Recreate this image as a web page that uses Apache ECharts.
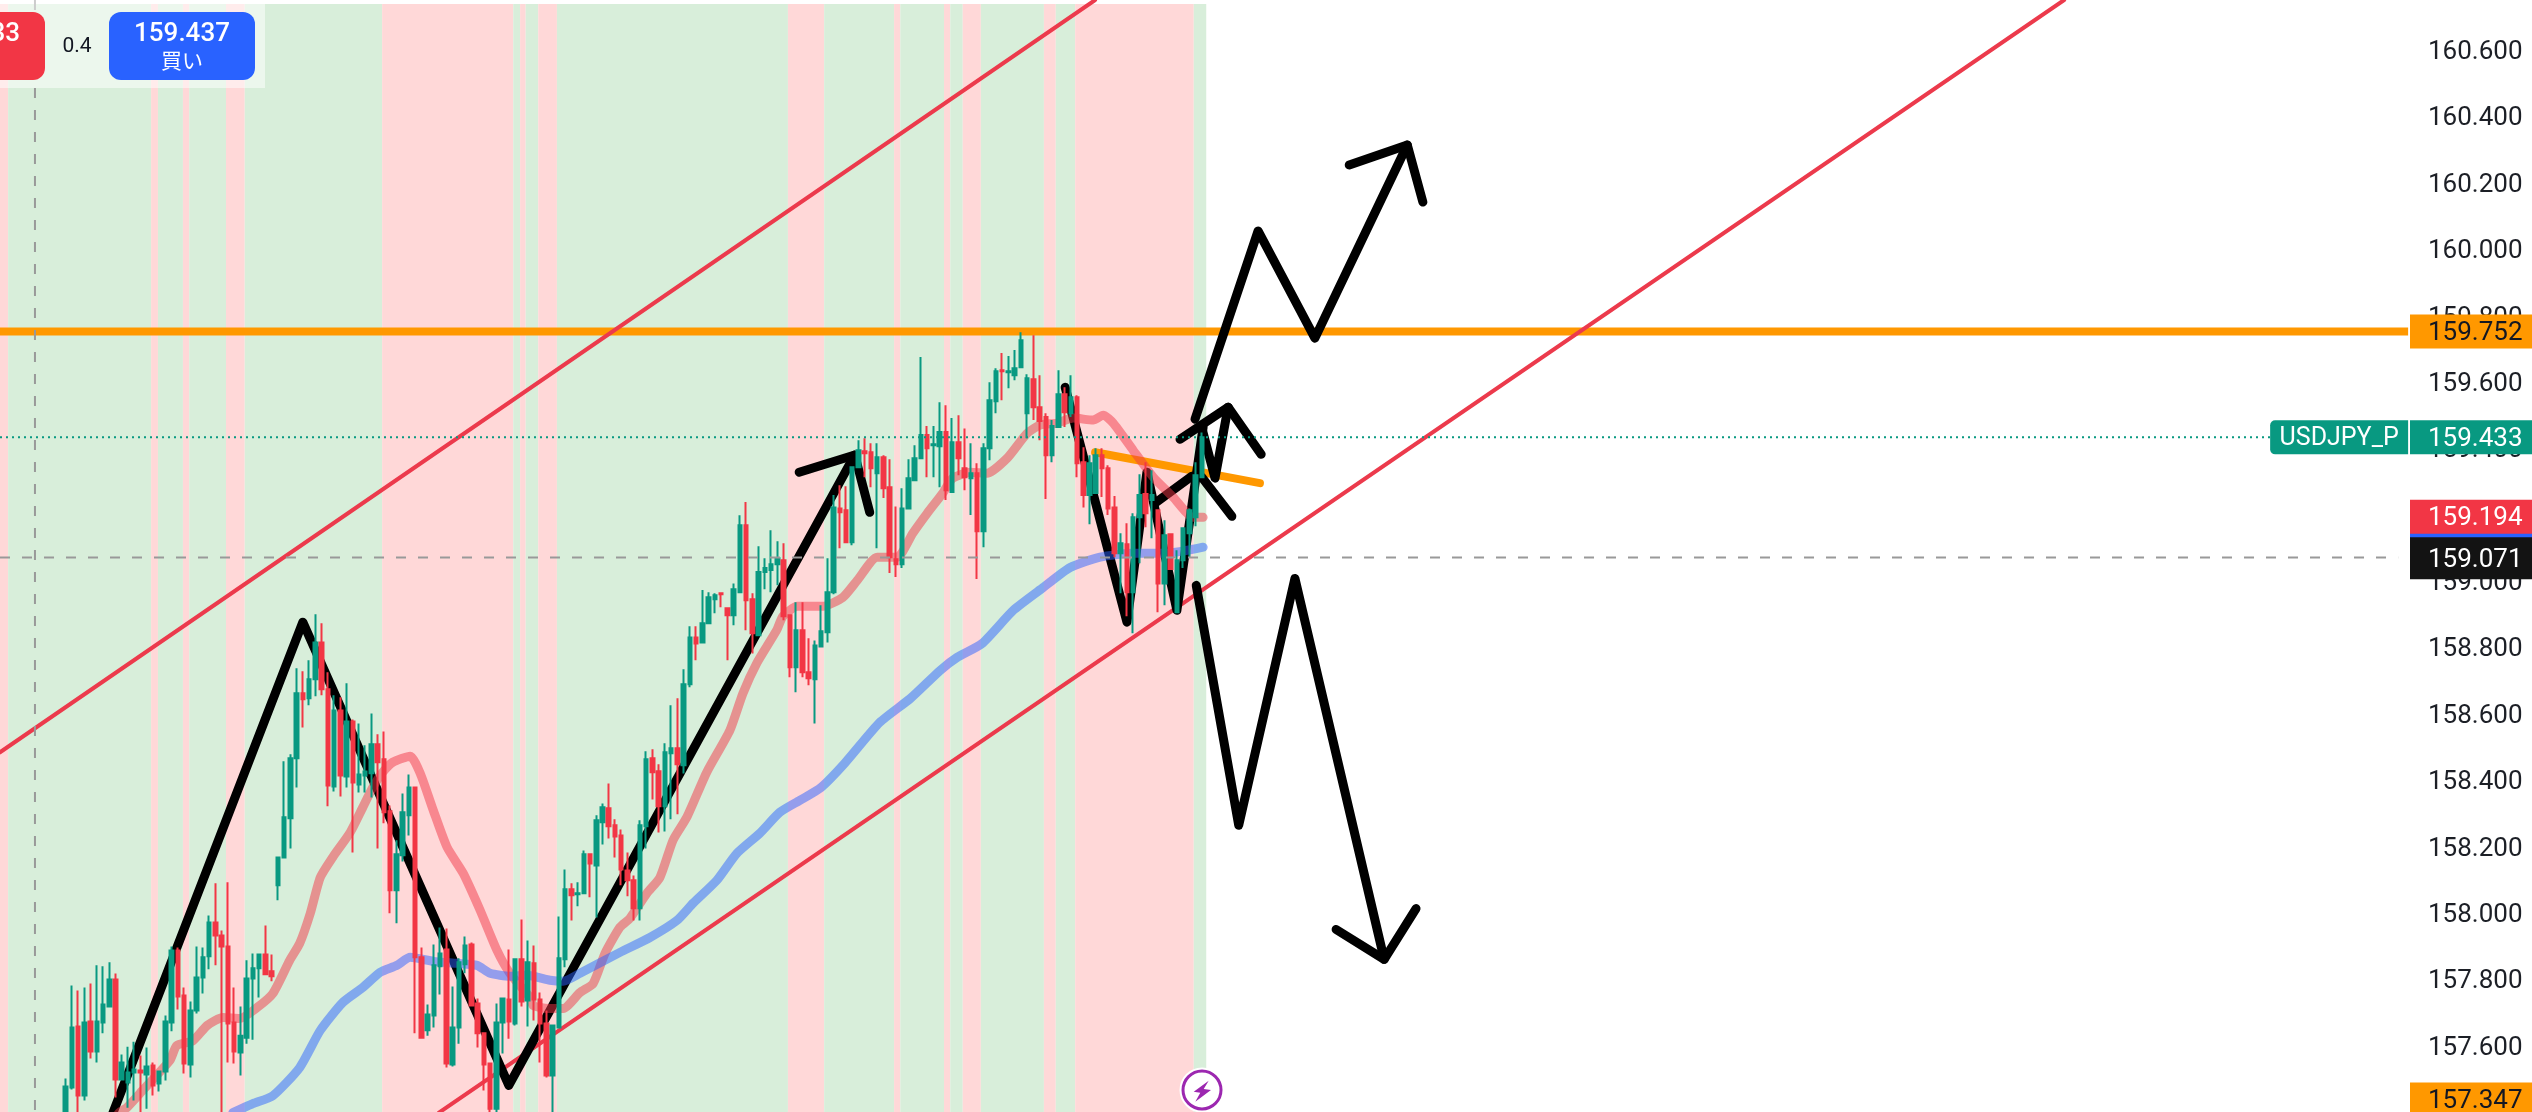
<!DOCTYPE html>
<html>
<head>
<meta charset="utf-8">
<title>USDJPY_P</title>
<script src="https://cdn.jsdelivr.net/npm/echarts@6/dist/echarts.min.js"></script>
<style>
  html, body { margin: 0; padding: 0; background: #fff; }
  #chart { width: 2532px; height: 1112px; }
</style>
</head>
<body>
<div id="chart"></div>
<script>
// bars: 10 empty slots, then the candles, then blank space up to the price scale
const barSlots = 386
const leadingSlots = 10

const opens = [
  157.359,157.474,157.658,157.450,157.673,157.582,157.670,157.718,157.799,157.498,
  157.489,157.519,157.525,157.513,157.540,157.486,157.522,157.670,157.887,157.751,
  157.543,157.706,157.805,157.869,157.971,157.932,157.899,157.670,157.579,157.624,
  157.802,157.833,157.875,157.824,158.083,158.167,158.285,158.466,158.662,158.647,
  158.704,158.815,158.674,158.381,158.610,158.411,158.577,158.387,158.414,158.421,
  158.508,158.463,158.306,158.068,158.174,158.294,158.378,157.866,157.646,157.691,
  157.839,157.890,157.543,157.655,157.845,157.905,157.727,157.637,157.546,157.410,
  157.670,157.739,157.667,157.860,157.736,157.848,157.739,157.667,157.510,157.655,
  157.860,158.071,158.056,158.059,158.177,158.143,158.273,158.315,158.264,158.233,
  158.128,158.098,158.014,158.261,158.466,158.427,158.321,158.481,158.496,158.445,
  158.689,158.830,158.815,158.873,158.945,158.963,158.918,158.897,158.966,159.168,
  158.945,158.837,159.027,159.033,159.051,159.063,158.897,158.740,158.852,158.725,
  158.704,158.803,158.846,158.966,159.219,159.213,159.117,159.343,159.391,159.388,
  159.325,159.373,159.283,159.066,159.051,159.219,159.304,159.370,159.440,159.409,
  159.406,159.449,159.268,159.418,159.340,159.310,159.325,159.150,159.400,159.542,
  159.635,159.629,159.620,159.644,159.506,159.608,159.524,159.494,159.379,159.464,
  159.563,159.506,159.554,159.358,159.259,159.265,159.379,159.340,159.222,159.084,
  159.111,158.966,159.192,159.262,159.244,159.213,158.993,159.141,158.906,159.063,
  159.144,159.192,159.313
]
const closes = [
  157.477,157.655,157.450,157.670,157.582,157.673,157.724,157.799,157.498,157.549,
  157.519,157.528,157.519,157.537,157.480,157.522,157.673,157.887,157.748,157.546,
  157.706,157.805,157.866,157.971,157.932,157.899,157.667,157.582,157.630,157.802,
  157.833,157.875,157.815,157.809,158.167,158.288,158.466,158.662,158.644,158.704,
  158.815,158.674,158.384,158.610,158.414,158.577,158.393,158.417,158.426,158.508,
  158.454,158.303,158.068,158.177,158.303,158.378,157.866,157.624,157.694,157.842,
  157.878,157.546,157.655,157.851,157.902,157.721,157.637,157.543,157.410,157.670,
  157.742,157.673,157.860,157.733,157.851,157.739,157.667,157.510,157.661,157.863,
  158.071,158.053,158.059,158.177,158.149,158.279,158.318,158.261,158.230,158.131,
  158.098,158.014,158.264,158.463,158.424,158.321,158.484,158.496,158.448,158.689,
  158.830,158.812,158.873,158.951,158.957,158.960,158.897,158.975,159.168,158.942,
  158.843,159.027,159.039,159.051,159.069,158.894,158.740,158.852,158.725,158.707,
  158.806,158.849,158.966,159.222,159.207,159.117,159.343,159.394,159.385,159.340,
  159.373,159.280,159.072,159.051,159.219,159.310,159.370,159.440,159.400,159.412,
  159.449,159.274,159.418,159.370,159.313,159.325,159.150,159.400,159.545,159.632,
  159.632,159.632,159.641,159.726,159.611,159.524,159.482,159.379,159.467,159.563,
  159.509,159.554,159.355,159.259,159.355,159.379,159.340,159.219,159.084,159.114,
  158.966,159.192,159.259,159.204,159.259,158.993,159.138,159.036,159.063,159.159,
  159.213,159.319,159.433
]
const lows = [
  157.344,157.468,157.359,157.435,157.561,157.549,157.637,157.715,157.444,157.495,
  157.413,157.435,157.389,157.410,157.450,157.462,157.495,157.643,157.709,157.516,
  157.504,157.697,157.757,157.830,157.842,157.398,157.549,157.546,157.510,157.606,
  157.618,157.745,157.812,157.794,158.038,158.167,158.194,158.378,158.559,158.626,
  158.653,158.656,158.321,158.366,158.351,158.378,158.182,158.363,158.363,158.348,
  158.194,158.270,157.999,157.969,158.155,158.233,157.637,157.624,157.630,157.655,
  157.754,157.534,157.537,157.606,157.818,157.718,157.594,157.465,157.398,157.398,
  157.576,157.621,157.661,157.718,157.658,157.676,157.549,157.504,157.398,157.655,
  157.836,157.977,158.020,158.059,158.047,157.986,158.206,158.224,158.167,158.083,
  158.050,157.977,157.977,158.194,158.342,158.242,158.245,158.282,158.297,158.420,
  158.680,158.761,158.815,158.873,158.903,158.921,158.761,158.867,158.963,158.852,
  158.782,158.837,158.975,158.966,158.987,158.882,158.710,158.665,158.710,158.686,
  158.571,158.803,158.815,158.960,159.099,159.117,159.108,159.343,159.313,159.283,
  159.099,159.250,159.024,159.012,159.039,159.219,159.304,159.370,159.313,159.313,
  159.283,159.244,159.265,159.319,159.274,159.199,159.006,159.102,159.364,159.506,
  159.545,159.581,159.605,159.644,159.430,159.485,159.424,159.247,159.358,159.461,
  159.464,159.494,159.313,159.222,159.171,159.265,159.253,159.199,159.072,158.963,
  158.894,158.843,159.054,159.162,159.129,158.906,158.927,159.036,158.903,159.039,
  159.072,159.165,159.313
]
const highs = [
  157.501,157.781,157.766,157.775,157.787,157.842,157.839,157.851,157.817,157.573,
  157.597,157.612,157.570,157.594,157.549,157.525,157.691,157.899,157.896,157.775,
  157.733,157.899,157.896,157.992,158.089,157.947,158.092,157.775,157.718,157.857,
  157.878,157.878,157.962,157.875,158.170,158.457,158.478,158.737,158.728,158.761,
  158.900,158.873,158.725,158.656,158.650,158.692,158.583,158.571,158.505,158.601,
  158.538,158.547,158.324,158.219,158.360,158.417,158.378,157.896,157.724,157.905,
  157.956,157.953,157.778,157.863,157.929,157.911,157.742,157.637,157.546,157.727,
  157.745,157.890,157.863,157.980,157.917,157.902,157.760,157.706,157.664,157.989,
  158.131,158.089,158.092,158.188,158.177,158.294,158.330,158.390,158.282,158.251,
  158.182,158.113,158.279,158.487,158.493,158.448,158.511,158.626,158.647,158.734,
  158.864,158.864,158.973,158.966,158.963,158.966,158.921,158.993,159.198,159.238,
  158.963,159.105,159.069,159.153,159.120,159.114,158.897,158.936,158.936,158.828,
  158.821,158.927,159.069,159.259,159.289,159.286,159.343,159.424,159.430,159.415,
  159.415,159.379,159.367,159.225,159.280,159.367,159.409,159.675,159.467,159.467,
  159.539,159.530,159.491,159.500,159.460,159.415,159.355,159.415,159.599,159.641,
  159.687,159.678,159.696,159.750,159.623,159.741,159.620,159.506,159.485,159.635,
  159.584,159.620,159.560,159.403,159.379,159.400,159.400,159.349,159.256,159.144,
  159.174,159.204,159.322,159.358,159.334,159.213,159.183,159.141,159.093,159.159,
  159.219,159.358,159.448
]

// moving averages
const fastMaBars = [
  17.6,19.1,20.3,22.4,27.2,28.3,30.9,33.2,35.7,38.4,41.2,43.7,46.4,48.0,49.7,51.3,53.3,56.1,58.1,59.7,
  61.3,62.9,65.7,67.3,69.4,71.6,74.2,76.9,79.6,81.7,84.9,85.4,87.8,90.2,92.9,95.0,96.9,99.3,100.9,103.6,
  105.7,107.8,110.0,113.2,116.9,119.0,121.2,124.4,125.4,127.7,131.8,135.0,137.3,140.5,143.7,146.2,148.5,
  151.0,152.6,155.4,158.1,161.3,164.5,166.6,169.3,171.9,175.1,176.7,178.3,181.5,184.7,187.9,191.1,192.7
]
const fastMa = [
  157.359,157.398,157.413,157.456,157.555,157.600,157.615,157.661,157.685,157.682,157.715,157.757,157.857,157.908,157.999,158.107,158.168,158.243,158.318,158.378,
  158.424,158.454,158.472,158.421,158.309,158.198,158.119,158.008,157.887,157.817,157.745,157.721,157.712,157.712,157.760,157.787,157.878,157.957,157.984,158.059,
  158.107,158.219,158.288,158.424,158.550,158.662,158.752,158.852,158.894,158.924,158.924,158.951,159.002,159.072,159.072,159.144,159.204,
  159.265,159.310,159.328,159.325,159.370,159.445,159.470,159.476,159.491,159.485,159.500,159.476,159.394,159.313,159.253,159.192,159.192
]
const slowMaBars = [
  37.3,40.5,43.7,48.0,51.3,54.9,58.1,60.9,63.6,65.7,69.4,73.2,76.4,78.5,81.7,84.4,88.1,90.2,92.9,99.3,104.1,
  108.4,111.0,114.8,118.0,121.7,124.9,128.1,131.5,135.3,140.9,145.8,150.6,153.3,157.3,162.3,167.1,171.4,176.2,181.5,186.9,192.7
]
const slowMa = [
  157.398,157.425,157.449,157.534,157.646,157.730,157.775,157.821,157.842,157.866,157.854,157.848,157.842,157.818,157.809,157.812,157.797,157.794,157.818,157.881,157.926,
  157.977,158.029,158.098,158.179,158.240,158.303,158.339,158.378,158.451,158.574,158.646,158.731,158.770,158.812,158.912,158.981,159.041,159.072,159.084,159.084,159.102
]

// background regimes, edges in bars, alternating red / green
const bandEdges = [
  0,1.3,24.2,25.3,29.3,30.3,36.2,39.2,61.2,82.2,83.3,84.2,86.2,89.2,126.2,132,143.2,144.2,
  151.2,152.2,154.2,157.1,167.2,169.1,172.2,191.2,193.2
]

// hand drawn lines, [bar, price]
const upperChannel = [[0, 158.484], [175.4, 160.751]]
const lowerChannel = [[70.3, 157.398], [330.6, 160.751]]
const resistance = [[0, 159.752], [385.7, 159.752]]
const shortOrange = [[175.4, 159.388], [201.8, 159.295]]
const lastPriceLine = [[0, 159.433], [363.6, 159.433]]
const crossH = [[0, 159.071], [384.1, 159.071]]
const crossV = [[5.6, 160.751], [5.6, 157.4]]

const swingPath = [[18.1, 157.398], [48.5, 158.876], [81.5, 157.480], [136.9, 159.380]]
const swingHead = [[128.0, 159.328], [136.9, 159.380], [139.3, 159.207]]
const zigzagPath = [[170.6, 159.584], [180.5, 158.876], [183.7, 159.328], [188.5, 158.912], [192.7, 159.464]]
const smallRise = [[185.0, 159.235], [190.9, 159.316]]
const smallHead = [[189.0, 159.427], [196.7, 159.524], [202.0, 159.382]]
const smallBack = [[196.7, 159.524], [194.6, 159.310], [192.5, 159.461]]
const smallFall = [[192.5, 159.313], [197.3, 159.195]]
const upPath = [[191.4, 159.488], [201.5, 160.055], [210.6, 159.732], [225.4, 160.314]]
const upHead = [[216.1, 160.254], [225.4, 160.314], [227.9, 160.142]]
const downPath = [[191.6, 158.987], [198.4, 158.264], [207.4, 159.008], [221.7, 157.860]]
const downHead = [[214.0, 157.950], [221.7, 157.860], [226.8, 158.013]]

// price scale tags, the last one is pinned to the bottom edge
const tagAnchors = [159.752, 159.433, 159.12, 159.194, 159.069, 157.438]
const tagLabels = ['159.752', '159.433', '', '159.194', '159.071', '157.347']
const tagFills = ['#FF9800', '#089981', '#2962FF', '#F23645', '#131313', '#FF9800']
const tagInks = ['#131722', '#ffffff', '#ffffff', '#ffffff', '#ffffff', '#131722']
const tagHeights = [34, 34, 34, 34, 42, 34]

const GREEN = '#089981'
const RED = '#F23645'
const TOP_PRICE = 160.739
const FONT = 'Roboto, sans-serif'

const categories = []
for (let i = 0; i < barSlots; i++) categories.push(String(i))

const candles = new Array(leadingSlots).fill('-')
for (let i = 0; i < opens.length; i++) {
  candles.push([opens[i], closes[i], lows[i], highs[i]])
}

const bands = []
for (let i = 0; i < bandEdges.length - 1; i++) {
  bands.push([bandEdges[i], bandEdges[i + 1], i % 2])
}

function zip(xs, ys) {
  return xs.map((x, i) => [x, ys[i]])
}

function renderBand(params, api) {
  const a = api.coord([api.value(0), TOP_PRICE])
  const b = api.coord([api.value(1), 157.4])
  return {
    type: 'rect',
    shape: { x: a[0], y: a[1], width: b[0] - a[0], height: b[1] - a[1] },
    style: { fill: api.value(2) === 0 ? '#FFD8D8' : '#D8EEDA' },
  }
}

function renderTag(params, api) {
  const i = params.dataIndex
  const p = api.coord([barSlots, tagAnchors[i]])
  const h = tagHeights[i]
  return {
    type: 'group',
    children: [
      {
        type: 'rect',
        shape: { x: p[0], y: p[1] - h / 2, width: 122, height: h },
        style: { fill: tagFills[i] },
      },
      {
        type: 'text',
        style: {
          text: tagLabels[i],
          x: p[0] + 18,
          y: p[1] + 2,
          fill: tagInks[i],
          font: '26px ' + FONT,
          textVerticalAlign: 'middle',
        },
      },
    ],
  }
}

function renderSymbolTag(params, api) {
  const p = api.coord([363.6, 159.433])
  const q = api.coord([385.7, 159.433])
  return {
    type: 'group',
    children: [
      {
        type: 'rect',
        shape: { x: p[0], y: p[1] - 17, width: q[0] - p[0], height: 34, r: [5, 0, 0, 5] },
        style: { fill: GREEN },
      },
      {
        type: 'text',
        style: {
          text: 'USDJPY_P',
          x: (p[0] + q[0]) / 2,
          y: p[1] + 1,
          fill: '#fff',
          font: '25px ' + FONT,
          textAlign: 'center',
          textVerticalAlign: 'middle',
        },
      },
    ],
  }
}

function lineSeries(data, color, width, z, extra) {
  return Object.assign({
    type: 'line',
    xAxisIndex: 1,
    yAxisIndex: 0,
    data: data,
    z: z,
    symbol: 'none',
    silent: true,
    lineStyle: { color: color, width: width, cap: 'round', join: 'round' },
  }, extra || {})
}

function inkPath(data) {
  return lineSeries(data, '#000', 9, 4)
}

const option = {
  animation: false,
  backgroundColor: '#ffffff',
  grid: { left: 0, right: 122, top: 0, bottom: 0 },
  xAxis: [
    { type: 'category', data: categories, show: false, boundaryGap: true },
    { type: 'value', min: 0, max: barSlots, show: false },
  ],
  yAxis: {
    type: 'value',
    position: 'right',
    min: 157.4,
    max: 160.751,
    interval: 0.2,
    splitLine: { show: false },
    axisLine: { show: false },
    axisTick: { show: false },
    axisLabel: {
      showMinLabel: false,
      showMaxLabel: false,
      margin: 18,
      formatter: (v) => '{p|' + v.toFixed(3) + '}',
      rich: {
        p: { color: '#1c1f26', fontSize: 26, fontFamily: FONT, padding: [5, 0, 0, 0] },
      },
    },
  },
  series: [
    { type: 'custom', xAxisIndex: 1, yAxisIndex: 0, renderItem: renderBand, data: bands, z: 1, silent: true, encode: { x: [0, 1] } },
    lineSeries(resistance, '#FF9800', 8, 2, { lineStyle: { color: '#FF9800', width: 8, cap: 'butt' } }),
    lineSeries(shortOrange, '#FF9800', 8, 2),
    lineSeries(upperChannel, '#EC3A4C', 4, 3),
    lineSeries(lowerChannel, '#EC3A4C', 4, 3),
    inkPath(swingPath),
    inkPath(swingHead),
    inkPath(zigzagPath),
    inkPath(smallRise),
    inkPath(smallHead),
    inkPath(smallBack),
    inkPath(smallFall),
    inkPath(upPath),
    inkPath(upHead),
    inkPath(downPath),
    inkPath(downHead),
    lineSeries(zip(fastMaBars, fastMa), 'rgba(242,54,69,0.5)', 9, 5, { smooth: 0.2 }),
    lineSeries(zip(slowMaBars, slowMa), 'rgba(41,98,255,0.5)', 9, 5, { smooth: 0.2 }),
    {
      type: 'candlestick',
      xAxisIndex: 0,
      yAxisIndex: 0,
      data: candles,
      z: 6,
      silent: true,
      barWidth: 4,
      itemStyle: { color: GREEN, color0: RED, borderColor: GREEN, borderColor0: RED, borderWidth: 2 },
    },
    lineSeries(lastPriceLine, GREEN, 2, 7, { lineStyle: { color: GREEN, width: 2, type: [2, 4] } }),
    lineSeries(crossH, '#999999', 2, 7, { lineStyle: { color: '#999999', width: 2, type: [10, 12] } }),
    lineSeries(crossV, '#999999', 2, 7, { lineStyle: { color: '#999999', width: 2, type: [10, 12] } }),
    { type: 'custom', xAxisIndex: 1, yAxisIndex: 0, renderItem: renderTag, data: tagAnchors.map((p) => [barSlots, p]), z: 10, silent: true, clip: false },
    { type: 'custom', xAxisIndex: 1, yAxisIndex: 0, renderItem: renderSymbolTag, data: [[363.6, 159.433]], z: 10, silent: true, clip: false },
  ],
  graphic: [
    // order panel
    { type: 'rect', z: 100, shape: { x: 0, y: 0, width: 265, height: 88 }, style: { fill: 'rgba(255,255,255,0.5)' } },
    { type: 'rect', z: 101, shape: { x: -101, y: 12, width: 146, height: 68, r: 12 }, style: { fill: RED } },
    { type: 'text', z: 102, style: { text: '159.433', x: -28, y: 34, fill: '#fff', font: '500 26px ' + FONT, textAlign: 'center', textVerticalAlign: 'middle' } },
    { type: 'text', z: 102, style: { text: '0.4', x: 77, y: 47, fill: '#131722', font: '21px ' + FONT, textAlign: 'center', textVerticalAlign: 'middle' } },
    { type: 'rect', z: 101, shape: { x: 109, y: 12, width: 146, height: 68, r: 12 }, style: { fill: '#2962FF' } },
    { type: 'text', z: 102, style: { text: '159.437', x: 182, y: 34, fill: '#fff', font: '500 26px ' + FONT, textAlign: 'center', textVerticalAlign: 'middle' } },
    { type: 'text', z: 102, style: { text: '買い', x: 182, y: 60, fill: '#fff', font: '21px "Noto Sans CJK JP"', textAlign: 'center', textVerticalAlign: 'middle' } },
    // lightning badge
    { type: 'circle', z: 101, shape: { cx: 1202, cy: 1090, r: 21 }, style: { fill: '#fff', stroke: '#fff', lineWidth: 3 } },
    { type: 'circle', z: 102, shape: { cx: 1202, cy: 1090, r: 19 }, style: { fill: '#fff', stroke: '#9C27B0', lineWidth: 3 } },
    {
      type: 'polygon',
      z: 103,
      shape: {
        points: [[1208.7, 1080.7], [1193.7, 1091.7], [1200.3, 1092.7], [1195.3, 1101.7], [1211, 1090], [1203.7, 1089], [1208.7, 1080.7]],
      },
      style: { fill: '#9C27B0' },
    },
  ],
}

const chart = echarts.init(document.getElementById('chart'), null, { renderer: 'canvas' })
chart.setOption(option)
</script>
</body>
</html>
